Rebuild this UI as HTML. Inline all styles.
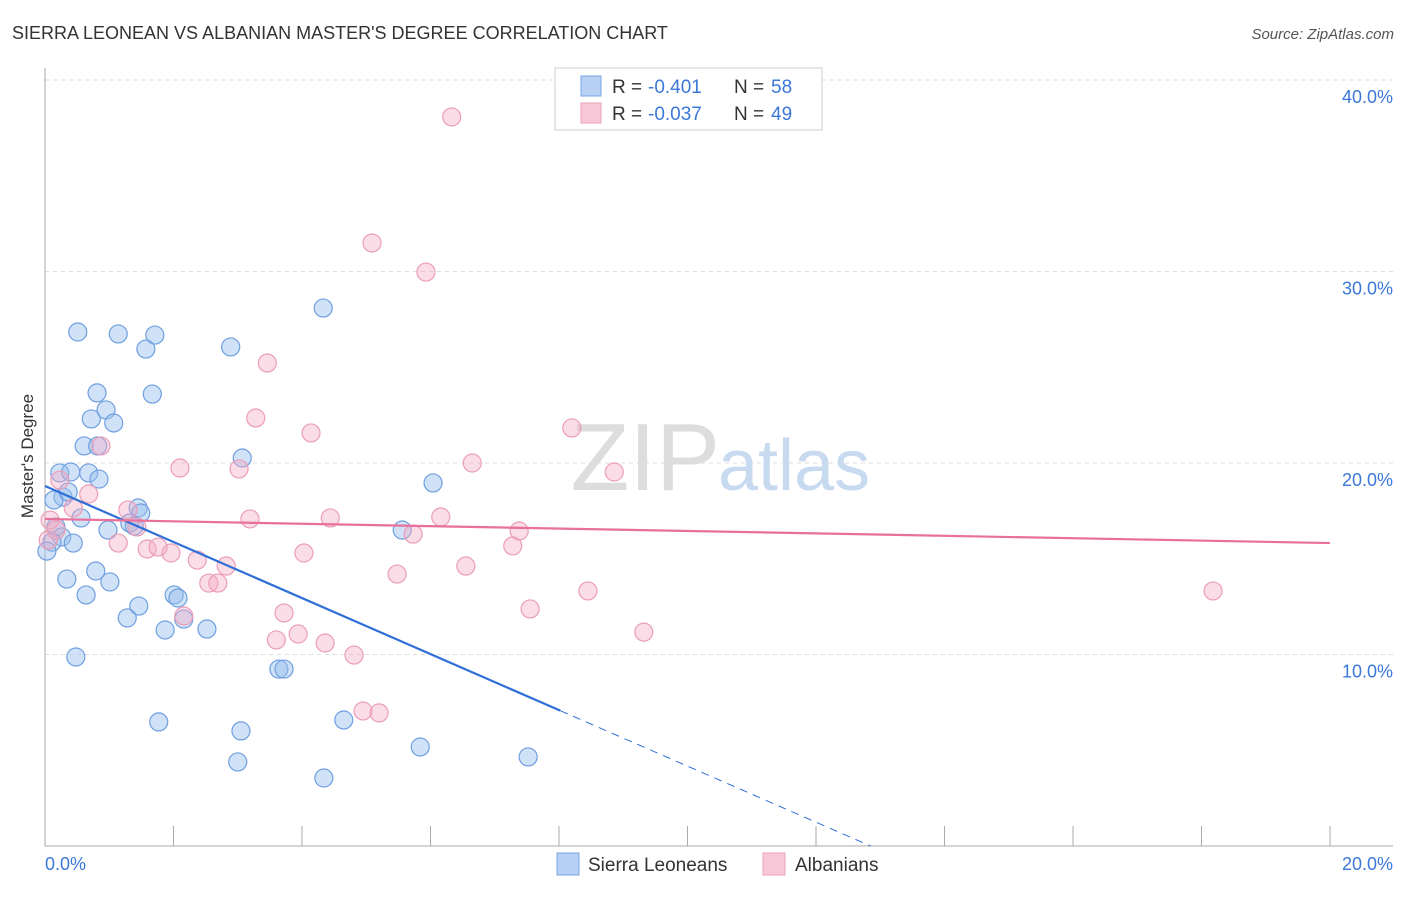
<!DOCTYPE html>
<html><head><meta charset="utf-8"><style>
body{margin:0;background:#fff;font-family:"Liberation Sans",sans-serif}
svg text{font-family:"Liberation Sans",sans-serif}
</style></head><body>
<svg width="1406" height="892" xmlns="http://www.w3.org/2000/svg">
<text x="12" y="39" font-size="18" fill="#333">SIERRA LEONEAN VS ALBANIAN MASTER'S DEGREE CORRELATION CHART</text>
<text x="1394" y="39" font-size="15" fill="#555" text-anchor="end" font-style="italic">Source: ZipAtlas.com</text>
<text transform="translate(33,456) rotate(-90)" font-size="17" fill="#333" text-anchor="middle">Master's Degree</text>
<g id="grid"></g>
<text x="720" y="490" font-size="96" fill="#ddd" text-anchor="end" font-family="Liberation Serif">ZIP</text>
<text x="718" y="490" font-size="72" fill="#c8daf0">atlas</text>
<g id="pts"></g>
<g id="lines"></g>
<g>
<rect x="555" y="68" width="267" height="62" fill="#fff" stroke="#ccc"/>
<rect x="581" y="76" width="20" height="20" fill="#b7d0f3" stroke="#7aa6e4"/>
<rect x="581" y="103" width="20" height="20" fill="#f9c8d8" stroke="#eaa2bb"/>
<text x="612" y="93" font-size="19" fill="#333">R =</text>
<text x="648" y="93" font-size="19" fill="#3b78d8">-0.401</text>
<text x="734" y="93" font-size="19" fill="#333">N =</text>
<text x="771" y="93" font-size="19" fill="#3b78d8">58</text>
<text x="612" y="120" font-size="19" fill="#333">R =</text>
<text x="648" y="120" font-size="19" fill="#3b78d8">-0.037</text>
<text x="734" y="120" font-size="19" fill="#333">N =</text>
<text x="771" y="120" font-size="19" fill="#3b78d8">49</text>
</g>
<g>
<rect x="557" y="853" width="22" height="22" fill="#b7d0f3" stroke="#7aa6e4"/>
<text x="588" y="871" font-size="19" fill="#333">Sierra Leoneans</text>
<rect x="763" y="853" width="22" height="22" fill="#f9c8d8" stroke="#eaa2bb"/>
<text x="795" y="871" font-size="19" fill="#333">Albanians</text>
</g>
<text x="45" y="870" font-size="18" fill="#3b78d8">0.0%</text>
<text x="1393" y="870" font-size="18" fill="#3b78d8" text-anchor="end">20.0%</text>
</svg>
<script>
const yTicks=[10,20,30,40];
const xTickCount=10;
const blueX=[0.51,1.14,1.71,1.57,2.89,4.33,0.81,1.67,0.95,0.72,1.07,0.61,0.82,3.07,0.23,0.40,0.68,0.28,0.84,0.14,0.36,6.04,1.45,1.49,1.32,1.39,0.56,0.98,0.17,0.26,0.11,0.44,0.03,5.56,0.79,0.34,1.01,0.64,2.01,2.07,1.46,1.28,2.16,1.87,2.52,0.48,3.64,3.72,1.77,3.05,4.65,3.00,5.84,4.34,7.52];
const blueY=[26.84,26.74,26.68,25.95,26.06,28.09,23.66,23.60,22.77,22.30,22.09,20.89,20.89,20.26,19.48,19.53,19.48,18.22,19.16,18.07,18.49,18.96,17.65,17.39,16.87,16.71,17.13,16.50,16.66,16.14,15.87,15.82,15.40,16.50,14.36,13.94,13.79,13.11,13.11,12.95,12.53,11.91,11.85,11.28,11.33,9.87,9.24,9.24,6.48,6.01,6.58,4.39,5.17,3.55,4.65];
const pinkX=[6.33,5.09,5.93,3.46,3.28,4.14,8.20,2.10,3.02,6.65,8.86,0.87,0.23,0.68,0.44,0.08,1.29,3.19,4.44,6.16,7.38,5.73,1.43,1.14,1.59,1.96,1.76,2.37,4.03,7.28,2.82,6.55,5.48,2.55,2.69,8.45,18.18,2.16,3.72,7.55,3.94,3.60,4.36,4.81,9.32,4.95,5.20,0.17,0.05];
const pinkY=[38.07,31.49,29.97,25.22,22.35,21.57,21.83,19.74,19.69,20.00,19.53,20.89,19.11,18.38,17.65,17.02,17.55,17.08,17.13,17.18,16.45,16.29,16.66,15.82,15.51,15.30,15.61,14.93,15.30,15.67,14.62,14.62,14.20,13.73,13.73,13.32,13.32,12.01,12.17,12.38,11.07,10.76,10.60,9.97,11.17,7.05,6.95,16.50,15.98];
const blueLine=[18.8,-1.463]; const blueSolidEnd=8.02;
const pinkLine=[17.08,-0.063];
const X=v=>45+v*64.25, Y=v=>846-v*19.15;
const NS="http://www.w3.org/2000/svg";
function mk(t,a,p){const e=document.createElementNS(NS,t);for(const k in a)e.setAttribute(k,a[k]);p.appendChild(e);return e;}
const grid=document.getElementById('grid');
yTicks.forEach(t=>{
 const l=mk('line',{x1:45,x2:1393,y1:Y(t),y2:Y(t),stroke:'#ddd','stroke-dasharray':'4,4'},grid);
 
 
 const tx=mk('text',{x:1393,y:Y(t)+23,'font-size':18,fill:'#3b78d8','text-anchor':'end'},grid);
 tx.textContent=t.toFixed(1)+'%';
 
 
});
mk('line',{x1:45,x2:45,y1:68,y2:846,stroke:'#aaa'},grid);
mk('line',{x1:45,x2:1393,y1:846,y2:846,stroke:'#aaa'},grid);
for(let i=0;i<=xTickCount;i++){const tk=mk('line',{x1:X(i*2),x2:X(i*2),y1:826,y2:846,stroke:'#aaa'},grid);
 
 }
const pts=document.getElementById('pts');
blueX.forEach((x,i)=>{const c=mk('circle',{cx:X(x),cy:Y(blueY[i]),r:9,fill:'rgba(150,190,238,0.45)',stroke:'#6f9fe0','stroke-width':1.2},pts);
 
 });
pinkX.forEach((x,i)=>{const c=mk('circle',{cx:X(x),cy:Y(pinkY[i]),r:9,fill:'rgba(246,170,196,0.4)',stroke:'#eb9db8','stroke-width':1.2},pts);
 
 });
const ln=document.getElementById('lines');
const bf=x=>blueLine[0]+blueLine[1]*x, pf=x=>pinkLine[0]+pinkLine[1]*x;
const zero=-blueLine[0]/blueLine[1];
let a=mk('line',{x1:X(0),y1:Y(bf(0)),x2:X(blueSolidEnd),y2:Y(bf(blueSolidEnd)),stroke:'#2f6fd6','stroke-width':2.2},ln);


a=mk('line',{x1:X(blueSolidEnd),y1:Y(bf(blueSolidEnd)),x2:X(zero),y2:Y(0),stroke:'#2f6fd6','stroke-width':1,'stroke-dasharray':'8,6'},ln);


a=mk('line',{x1:X(0),y1:Y(pf(0)),x2:X(20),y2:Y(pf(20)),stroke:'#e8709a','stroke-width':2.2},ln);


</script>
</body></html>
